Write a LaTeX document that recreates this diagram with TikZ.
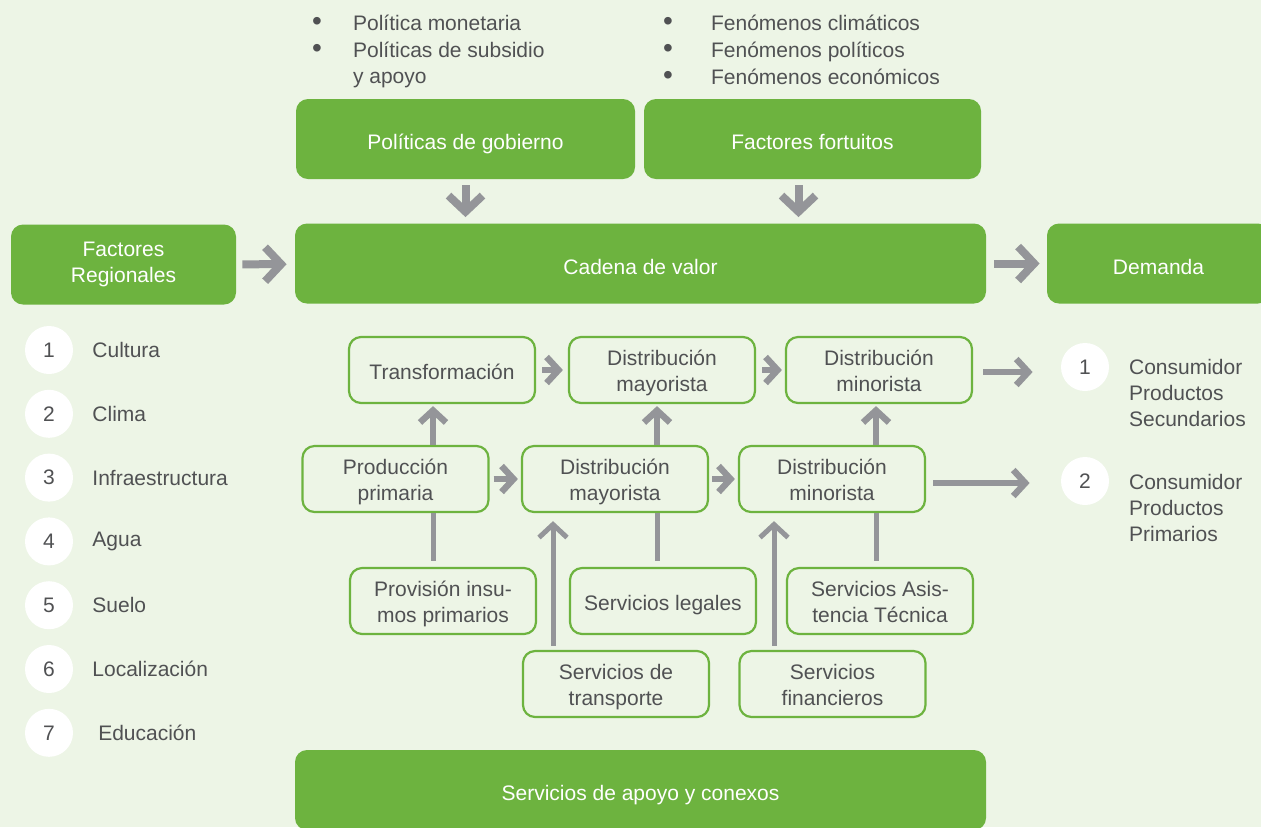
\documentclass[tikz,border=0pt]{standalone}
\usepackage{fontspec}
\setmainfont{Liberation Sans}
\usetikzlibrary{arrows.meta, positioning, calc}

\definecolor{fondo}{RGB}{237,245,230}
\definecolor{verde}{RGB}{109,179,63}
\definecolor{gris}{RGB}{148,149,153}
\definecolor{texto}{RGB}{80,81,83}

\begin{document}
\begin{tikzpicture}[
    x=0.5pt, y=-0.5pt,
    font=\fontsize{10.5}{13}\selectfont, text=texto,
    bloque/.style={fill=verde, rounded corners=6pt, text=white, align=center, minimum height=40pt},
    bloqueuno/.style={bloque, text height=10.6pt, text depth=0pt},
    caja/.style={draw=verde, line width=1.1pt, fill=fondo, rounded corners=6pt, align=center, minimum width=93pt, minimum height=33pt, text height=21pt, text depth=0pt},
    cajauna/.style={caja, text height=9pt},
    num/.style={circle, fill=white, minimum size=24pt, inner sep=0pt},
    vineta/.style={anchor=base, font=\fontsize{14}{14}\selectfont},
    flecha/.style={draw=gris, line width=3.2pt, -{Straight Barb[length=6pt,width=13pt]}},
    flechavert/.style={draw=gris, line width=2.5pt, -{Straight Barb[length=6.5pt,width=14pt]}},
    flechagrande/.style={draw=gris, line width=4pt, -{Straight Barb[length=8pt,width=17pt]}},
    linea/.style={draw=gris, line width=2.5pt}
]
    \useasboundingbox (0,0) rectangle (1261,827);
    \fill[fondo] (0,0) rectangle (1261,827);
    \clip (0,0) rectangle (1261,827);

    % cajas verdes
    \node[bloqueuno, minimum width=169.5pt] (gobierno) at (465.5,139) {Políticas de gobierno};
    \node[bloqueuno, minimum width=168.5pt] (fortuitos) at (812.5,139) {Factores fortuitos};
    \node[bloque, minimum width=112.5pt] (regionales) at (123.5,264.5) {Factores\\Regionales};
    \node[bloqueuno, minimum width=345.5pt] (cadena) at (640.5,263.5) {Cadena de valor};
    \node[bloqueuno, minimum width=111.5pt] (demanda) at (1158.5,263.5) {Demanda};
    \node[bloqueuno, minimum width=345.5pt] (apoyo) at (640.5,790) {Servicios de apoyo y conexos};

    % listas de arriba
    \node[vineta] (b1) at (317,30.5) {•};
    \node[anchor=base west] at (346,30.5) {Política monetaria};
    \node[vineta] (b2) at (317,57.5) {•};
    \node[anchor=west, align=left] at (346,65) {Políticas de subsidio\\y apoyo};
    \node[vineta] (b3) at (668,30.5) {•};
    \node[anchor=base west] at (704,30.5) {Fenómenos climáticos};
    \node[vineta] (b4) at (668,57.5) {•};
    \node[anchor=base west] at (704,57.5) {Fenómenos políticos};
    \node[vineta] (b5) at (668,84.5) {•};
    \node[anchor=base west] at (704,84.5) {Fenómenos económicos};

    \draw[flechagrande] (gobierno) -- (gobierno |- cadena.north) [shorten <=3pt, shorten >=3pt];
    \draw[flechagrande] ([xshift=-7pt]fortuitos.south) -- ([xshift=-7pt]fortuitos.south |- cadena.north) [shorten <=3pt, shorten >=3pt];
    \draw[flechagrande, shorten <=3pt, shorten >=4pt] (regionales) -- (cadena);
    \draw[flechagrande, shorten <=4pt, shorten >=3.5pt] (cadena) -- (demanda);

    % factores regionales
    \foreach \t [count=\i] in {Cultura, Clima, Infraestructura, Agua, Suelo, Localización, \ Educación} {
        \node[num] (r\i) at (49,350+63.8*\i-63.8) {\i};
        \node[right=6pt of r\i] {\t};
    }

    % cadena
    \node[cajauna] (trans) at (442,370) {Transformación};
    \node[caja] (dmay1) at (662,370) {Distribución\\mayorista};
    \node[caja] (dmin1) at (879,370) {Distribución\\minorista};
    \node[caja] (prod) at (395.5,479) {Producción\\primaria};
    \node[caja] (dmay2) at (615,479) {Distribución\\mayorista};
    \node[caja] (dmin2) at (832,479) {Distribución\\minorista};
    \node[caja] (prov) at (443,601) {Provisión insu-\\mos primarios};
    \node[cajauna] (legales) at (663,601) {Servicios legales};
    \node[caja] (asist) at (880,601) {Servicios Asis-\\tencia Técnica};
    \node[caja] (transp) at (616,684) {Servicios de\\transporte};
    \node[caja] (financ) at (832.5,684) {Servicios\\financieros};

    % consumidores
    \node[num] (c1) at (1085,367) {1};
    \node[anchor=west, align=left] at (1122,393) {Consumidor\\Productos\\Secundarios};
    \node[num] (c2) at (1085,481) {2};
    \node[anchor=west, align=left] at (1122,508) {Consumidor\\Productos\\Primarios};

    \draw[flecha, shorten <=3pt, shorten >=2.5pt] (trans) -- (dmay1);
    \draw[flecha, shorten <=3pt, shorten >=1.5pt] (dmay1) -- (dmin1);
    \draw[flecha, shorten <=5pt, shorten >=14pt] ([yshift=-1pt]dmin1.east) -- ([yshift=-1pt]dmin1.east -| c1.west);
    \draw[flecha, shorten <=2pt, shorten >=1.5pt] (prod) -- (dmay2);
    \draw[flecha, shorten <=1.5pt, shorten >=1.5pt] (dmay2) -- (dmin2);
    \draw[flecha, shorten <=3.5pt, shorten >=15.5pt] ([yshift=-2pt]dmin2.east) -- ([yshift=-2pt]dmin2.east -| c2.west);

    \draw[flecha, shorten >=1pt] ([xshift=-4.5pt]trans.south |- prod.north) -- ([xshift=-4.5pt]trans.south);
    \draw[flecha, shorten >=1pt] ([xshift=-2.5pt]dmay1.south |- dmay2.north) -- ([xshift=-2.5pt]dmay1.south);
    \draw[flecha, shorten >=1pt] ([xshift=-1.5pt]dmin1.south |- dmin2.north) -- ([xshift=-1.5pt]dmin1.south);

    \draw[linea, shorten <=3pt] ([xshift=-5pt]prov.north) -- ([xshift=-5pt]prov.north |- prod.south);
    \draw[linea, shorten <=3pt] ([xshift=-3pt]legales.north) -- ([xshift=-3pt]legales.north |- dmay2.south);
    \draw[linea, shorten <=3pt] ([xshift=-2pt]asist.north) -- ([xshift=-2pt]asist.north |- dmin2.south);

    \draw[flechavert, shorten <=2pt, shorten >=4pt] ([xshift=-31.5pt]transp.north) -- ([xshift=-31.5pt]transp.north |- dmay2.south);
    \draw[flechavert, shorten <=2pt, shorten >=4pt] ([xshift=-29.25pt]financ.north) -- ([xshift=-29.25pt]financ.north |- dmin2.south);
\end{tikzpicture}
\end{document}
